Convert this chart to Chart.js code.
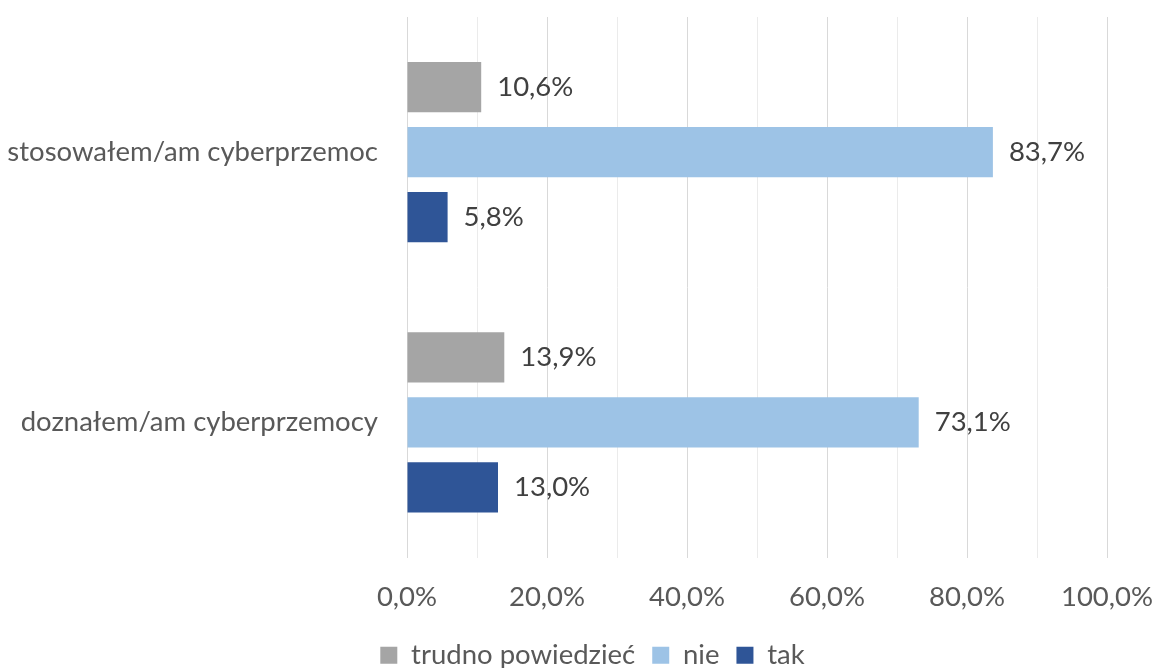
<!DOCTYPE html>
<html>
<head>
<meta charset="utf-8">
<script src="https://cdn.jsdelivr.net/npm/chart.js@4.4.1/dist/chart.umd.min.js"></script>
<style>
html,body{margin:0;padding:0;background:#fff;}
#wrap{width:1153px;height:668px;position:relative;}
</style>
</head>
<body>
<div id="wrap"><canvas id="c" width="1153" height="668"></canvas></div>
<script>
const categories = ['stosowałem/am cyberprzemoc', 'doznałem/am cyberprzemocy'];
const seriesNames = ['trudno powiedzieć', 'nie', 'tak'];
const trudnoValues = [10.6, 13.9];
const nieValues = [83.7, 73.1];
const takValues = [5.8, 13.0];
const xTickValues = [0, 20, 40, 60, 80, 100];

const FONT = 'Lato';
const FS = 27.5;
const fmt = v => v.toFixed(1).replace('.', ',') + '%';

const dataLabels = {
  id: 'dataLabels',
  afterDatasetsDraw(chart) {
    const ctx = chart.ctx;
    ctx.save();
    ctx.font = FS + 'px ' + FONT;
    ctx.fillStyle = '#404040';
    ctx.textAlign = 'left';
    ctx.textBaseline = 'middle';
    chart.data.datasets.forEach((ds, i) => {
      const meta = chart.getDatasetMeta(i);
      meta.data.forEach((el, j) => {
        ctx.fillText(fmt(ds.data[j]), el.x + 16, el.y);
      });
    });
    ctx.restore();
  }
};

const legendShift = {
  id: 'legendShift',
  afterLayout(chart) {
    if (chart.legend) {
      chart.legend.left += 39;
      chart.legend.right += 39;
    }
  }
};

new Chart(document.getElementById('c'), {
  type: 'bar',
  data: {
    labels: categories,
    datasets: [
      { label: seriesNames[0], data: trudnoValues, backgroundColor: '#a5a5a5' },
      { label: seriesNames[1], data: nieValues, backgroundColor: '#9dc3e6' },
      { label: seriesNames[2], data: takValues, backgroundColor: '#2f5597' }
    ]
  },
  options: {
    indexAxis: 'y',
    responsive: false,
    animation: false,
    devicePixelRatio: 1,
    categoryPercentage: 0.722,
    barPercentage: 0.77,
    layout: { padding: { top: 17, right: 46, left: 0, bottom: -11 } },
    plugins: {
      legend: {
        position: 'bottom',
        labels: {
          font: { family: FONT, size: FS },
          color: '#595959',
          boxWidth: 17,
          boxHeight: 17,
          padding: 17
        }
      },
      tooltip: { enabled: false }
    },
    scales: {
      x: {
        min: 0, max: 100,
        afterFit: (s) => { s.height = 67; s.paddingLeft = 0; s.paddingRight = 0; },
        ticks: {
          stepSize: 10,
          padding: 23,
          font: { family: FONT, size: FS },
          color: '#595959',
          autoSkip: false,
          maxRotation: 0,
          callback: (v) => xTickValues.includes(v) ? fmt(v) : ''
        },
        grid: {
          drawTicks: false,
          color: (c) => (c.tick && c.tick.value % 20 === 0) ? '#d9d9d9' : '#ebebeb',
          lineWidth: 1
        },
        border: { display: false }
      },
      y: {
        afterFit: (s) => { s.width = 407; s.paddingTop = 0; s.paddingBottom = 0; },
        ticks: {
          padding: 29,
          font: { family: FONT, size: FS },
          color: '#595959'
        },
        grid: { display: false, drawTicks: false },
        border: { display: true, color: '#d9d9d9' }
      }
    }
  },
  plugins: [dataLabels, legendShift]
});
</script>
</body>
</html>
